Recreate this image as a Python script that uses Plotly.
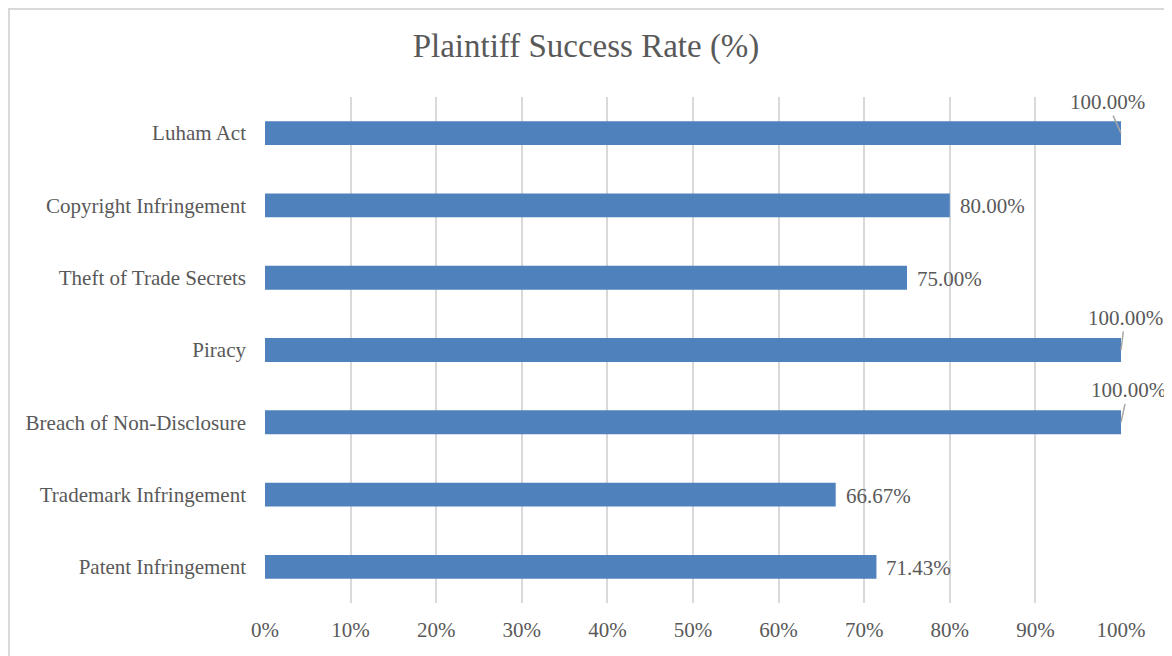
import plotly.graph_objects as go

categories = ["Patent Infringement", "Trademark Infringement", "Breach of Non-Disclosure",
              "Piracy", "Theft of Trade Secrets", "Copyright Infringement", "Luham Act"]
values = [71.43, 66.67, 100.00, 100.00, 75.00, 80.00, 100.00]
tick_vals = [0, 10, 20, 30, 40, 50, 60, 70, 80, 90, 100]
tick_text = [f"{v}%" for v in tick_vals]

FONT = "Liberation Serif, Times New Roman, serif"
GRAY = "#595959"

W, H = 1164, 648
L, R, T, B = 257, 51, 89, 53
PW, PH = W - L - R, H - T - B

fig = go.Figure(go.Bar(
    x=values, y=categories, orientation="h",
    marker=dict(color="#4F81BD", line=dict(width=0)),
    hoverinfo="skip",
))

# leader-line offsets for labels of full-length bars (pixels)
leader = {"Luham Act": (-14, -31), "Piracy": (4, -32), "Breach of Non-Disclosure": (7, -32)}

annotations = []
for cat, v in zip(categories, values):
    label = f"{v:.2f}%"
    if cat in leader:
        ax, ay = leader[cat]
        annotations.append(dict(x=v, y=cat, xref="x", yref="y", text=label,
                                showarrow=True, arrowhead=0, arrowwidth=1.5,
                                arrowcolor="#A6A6A6", ax=ax, ay=ay,
                                font=dict(family=FONT, size=21, color=GRAY)))
    else:
        annotations.append(dict(x=v, y=cat, xref="x", yref="y", text=label,
                                showarrow=False, xanchor="left", xshift=8, yshift=-1,
                                font=dict(family=FONT, size=21, color=GRAY)))

fig.update_layout(
    width=W, height=H,
    margin=dict(l=L, r=R, t=T, b=B),
    paper_bgcolor="white", plot_bgcolor="white",
    bargap=0.67,
    showlegend=False,
    title=dict(text="Plaintiff Success Rate (%)", x=(586 - 8) / W, xref="container",
               xanchor="center", y=1 - 37 / H, yanchor="middle",
               font=dict(family=FONT, size=33, color=GRAY)),
    xaxis=dict(range=[0, 100], tickvals=tick_vals, ticktext=tick_text,
               showgrid=True, gridcolor="#D9D9D9", gridwidth=2, zeroline=False,
               showline=False, ticks="", ticklabelstandoff=12,
               tickfont=dict(family=FONT, size=21, color=GRAY)),
    yaxis=dict(range=[-0.5, len(categories) - 0.5], autorange=False,
               showgrid=False, zeroline=False, showline=False, ticks="",
               ticklabelstandoff=18,
               tickfont=dict(family=FONT, size=21, color=GRAY)),
    annotations=annotations,
    shapes=[dict(type="rect", xref="paper", yref="paper",
                 x0=(1 - L) / PW, x1=(1162 - L) / PW,
                 y0=(T + PH - (H + 20)) / PH, y1=(T + PH - 1) / PH,
                 line=dict(color="#D9D9D9", width=2), fillcolor="rgba(0,0,0,0)",
                 layer="below")],
)

fig.write_html("out.html")
